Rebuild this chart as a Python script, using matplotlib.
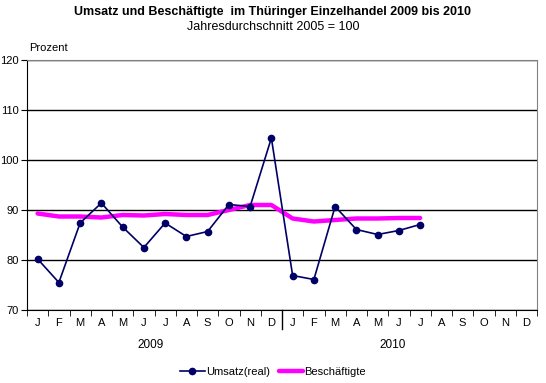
import matplotlib
matplotlib.use('Agg')
import matplotlib.pyplot as plt
import numpy as np

plt.rcParams['font.family'] = ['Liberation Sans', 'DejaVu Sans']

months = ['J', 'F', 'M', 'A', 'M', 'J', 'J', 'A', 'S', 'O', 'N', 'D'] * 2
years = ['2009', '2010']
umsatz = [80.2, 75.5, 87.4, 91.4, 86.6, 82.5, 87.4, 84.7, 85.7, 91.1, 90.7, 104.4,
          76.9, 76.1, 90.7, 86.1, 85.1, 85.9, 87.1]
beschaeftigte = [89.3, 88.7, 88.7, 88.5, 89.0, 88.9, 89.2, 89.0, 89.0, 90.0, 91.0, 91.0,
                 88.3, 87.7, 88.0, 88.3, 88.3, 88.4, 88.4]

fig = plt.figure(figsize=(5.46, 3.83), dpi=100)
ax = fig.add_axes([27/546, 1-310/383, 510/546, 250/383])

x = np.arange(len(months))
ax.plot(x[:len(beschaeftigte)], beschaeftigte, color='#ff00ff', lw=3.2,
        solid_joinstyle='round', solid_capstyle='round', label='Beschäftigte', zorder=3)
ax.plot(x[:len(umsatz)], umsatz, color='#000066', lw=1.2, marker='o', ms=4.5,
        label='Umsatz(real)', zorder=4)

ax.set_xlim(-0.5, len(months) - 0.5)
ax.set_ylim(70, 120)
ax.set_yticks(np.arange(70, 121, 10))
ax.yaxis.grid(True, color='black', lw=1)
ax.set_axisbelow(True)

ax.set_xticks(x)
ax.set_xticklabels(months, fontsize=8)
ax.tick_params(axis='x', which='major', length=0, pad=6)
ax.set_xticks(np.arange(-0.5, len(months), 1), minor=True)
ax.tick_params(axis='x', which='minor', length=4, direction='out', color='black')
ax.tick_params(axis='y', length=4, labelsize=8, pad=2)

for side in ['top', 'right']:
    ax.spines[side].set_color('#808080')
for side in ['left', 'bottom']:
    ax.spines[side].set_color('black')

# year separator and year labels
trans = ax.get_xaxis_transform()
ax.plot([11.5, 11.5], [0, -0.075], color='black', lw=1, transform=trans, clip_on=False)
for xpos, yr in zip([5.3, 16.7], years):
    ax.text(xpos, -0.115, yr, transform=trans, ha='center', va='top', fontsize=8.5)

fig.text(0.5, 1-12/383, 'Umsatz und Beschäftigte  im Thüringer Einzelhandel 2009 bis 2010',
         ha='center', va='center', fontsize=9, fontweight='bold')
fig.text(0.5, 1-27/383, 'Jahresdurchschnitt 2005 = 100', ha='center', va='center', fontsize=9)
fig.text(29/546, 1-48/383, 'Prozent', ha='left', va='center', fontsize=8)

h, l = ax.get_legend_handles_labels()
fig.legend(h[::-1], l[::-1], loc='center', bbox_to_anchor=(0.5, 1-372/383), ncol=2,
           frameon=False, fontsize=8, handlelength=2.2, handletextpad=0.1, columnspacing=0.8)

fig.savefig('out.png', dpi=100)
